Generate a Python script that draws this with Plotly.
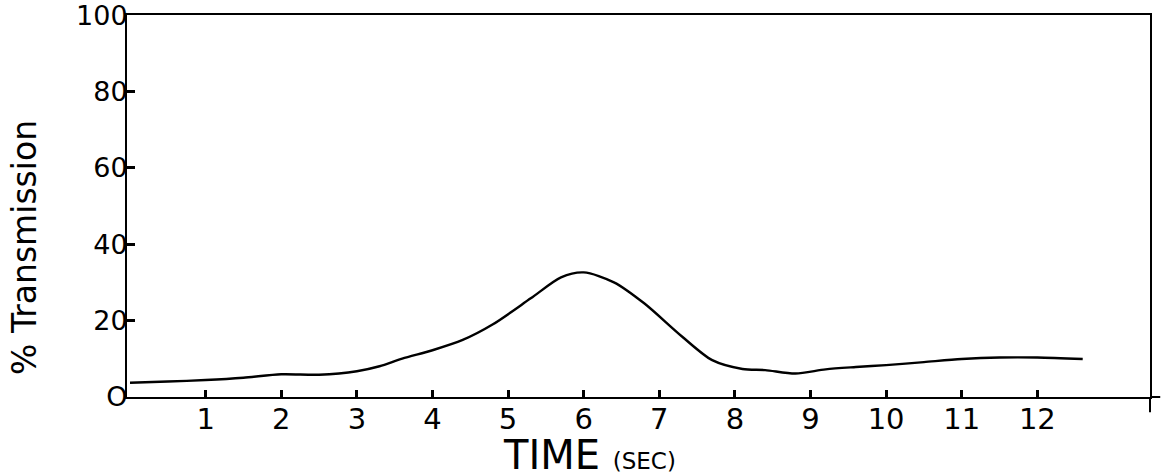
import plotly.graph_objects as go

# Data
time_sec = [0, 0.5, 1, 1.5, 2, 2.5, 3, 3.3, 3.6, 4, 4.4, 4.8, 5.3, 5.7, 6.0,
            6.4, 6.8, 7.3, 7.7, 8.1, 8.4, 8.8, 9.2, 9.6, 10, 10.5, 11, 11.5, 12, 12.6]
transmission = [3.7, 4.0, 4.4, 5.0, 5.9, 5.8, 6.7, 8.0, 10.0, 12.2, 14.9, 19.0, 25.8, 31.3, 32.6,
                30.0, 24.5, 15.8, 9.6, 7.3, 7.0, 6.1, 7.2, 7.8, 8.3, 9.1, 9.9, 10.3, 10.3, 9.9]

x_ticks = [1, 2, 3, 4, 5, 6, 7, 8, 9, 10, 11, 12]
y_ticks = [0, 20, 40, 60, 80, 100]
y_tick_labels = ["O", "20", "40", "60", "80", "100"]

FONT = "DejaVu Sans"

fig = go.Figure()
fig.add_trace(go.Scatter(
    x=time_sec, y=transmission, mode="lines",
    line=dict(color="black", width=2.4, shape="spline", smoothing=0.8),
    showlegend=False, hoverinfo="skip",
))

fig.update_layout(
    width=1163, height=474,
    margin=dict(l=127, r=13, t=15, b=77, autoexpand=False),
    paper_bgcolor="white", plot_bgcolor="white",
    font=dict(family=FONT, color="black"),
    xaxis=dict(
        range=[-0.04, 13.49], tickvals=x_ticks, ticktext=[str(v) for v in x_ticks],
        ticks="inside", ticklen=7, tickwidth=2.5, tickcolor="black",
        showline=True, linecolor="black", linewidth=2, mirror=True,
        showgrid=False, zeroline=False, automargin=False,
        ticklabeloverflow="allow", ticklabelstandoff=-5,
        tickfont=dict(family=FONT, size=29, color="black"),
    ),
    yaxis=dict(
        range=[-0.05, 100.05], tickvals=y_ticks, ticktext=y_tick_labels,
        ticks="inside", ticklen=8, tickwidth=3, tickcolor="black",
        showline=True, linecolor="black", linewidth=2, mirror=True,
        showgrid=False, zeroline=False, ticklabelstandoff=-8, automargin=False,
        ticklabeloverflow="allow",
        tickfont=dict(family=FONT, size=27, color="black"),
    ),
)

fig.add_annotation(
    text="% Transmission", xref="paper", yref="paper",
    x=-0.1, y=0.392, xanchor="center", yanchor="middle",
    textangle=-90, showarrow=False,
    font=dict(family=FONT, size=33, color="black"),
)
fig.add_annotation(
    text="TIME <span style='font-size:23px'>(SEC)</span>",
    xref="paper", yref="paper", x=0.452, y=-0.152,
    xanchor="center", yanchor="middle", showarrow=False,
    font=dict(family=FONT, size=40, color="black"),
)

# small axis-frame overhangs at the bottom-right corner
fig.add_shape(type="line", xref="paper", yref="paper", x0=1, x1=1.01, y0=0, y1=0,
              line=dict(color="black", width=2))
fig.add_shape(type="line", xref="paper", yref="paper", x0=1, x1=1, y0=0, y1=-0.04,
              line=dict(color="black", width=2))

fig.write_html("out.html", config={"displayModeBar": False},
               post_script="document.body.style.margin='0';")
